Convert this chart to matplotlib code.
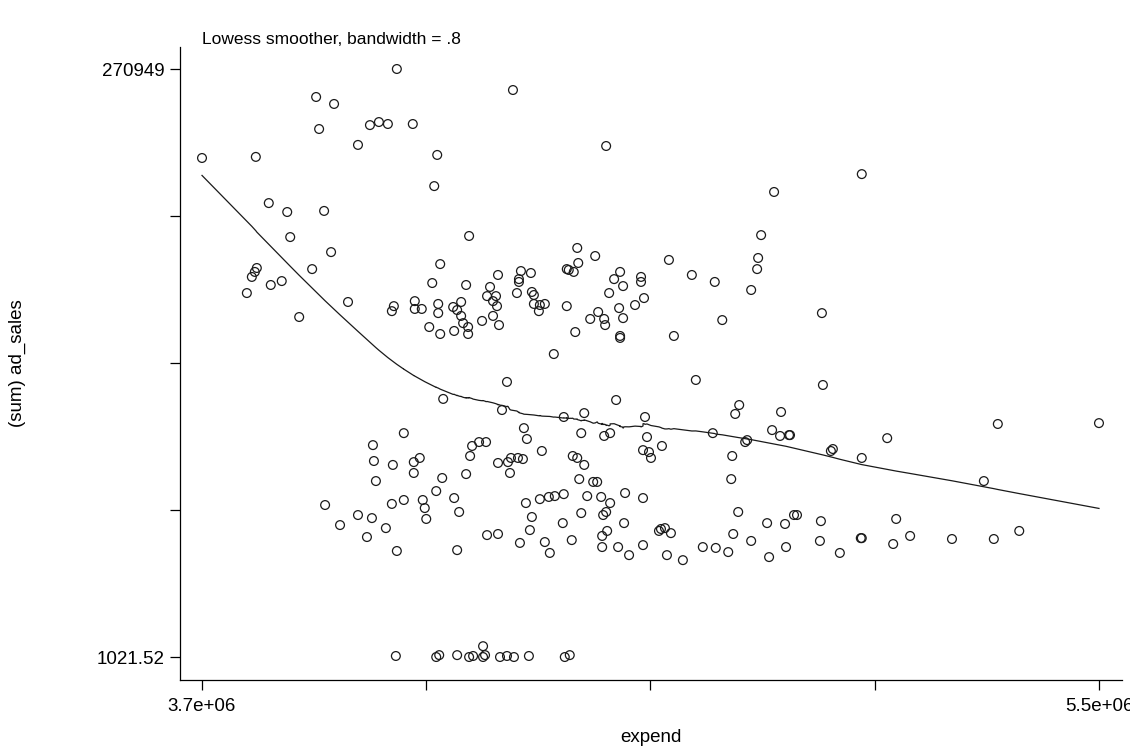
import numpy as np
import matplotlib
matplotlib.use("Agg")
import matplotlib.pyplot as plt

plt.rcParams['font.family'] = ['Liberation Sans', 'DejaVu Sans']

# expend (thousands) and (sum) ad_sales (thousands)
expend_k = [
    4091, 3929, 3965, 3935, 4037, 4055, 4073, 4123, 4013, 3700,
    3808, 4172, 4166, 3834, 3871, 3945, 3877, 4236, 3959, 4178,
    3810, 3921, 3806, 3800, 3790, 3838, 3860, 3895, 3993, 4162,
    4230, 4085, 4081, 4127, 4127, 4141, 4174, 4174, 4220, 4204,
    4212, 4220, 4224, 4234, 4156, 4178, 4206, 4234, 4184, 4324,
    4511, 4848, 4822, 4453, 4489, 4455, 4637, 4816, 4814, 5024,
    4432, 4436, 4446, 4340, 4360, 4336, 4336, 4294, 4278, 4272,
    4290, 4284, 4292, 4332, 4362, 4366, 4366, 4378, 4388, 4376,
    4262, 4284, 4296, 4432, 4449, 4527, 4539, 4545, 4517, 4581,
    4581, 4587, 4569, 4537, 4495, 4479, 4507, 4509, 4545, 4539,
    4539, 4683, 4729, 4802, 4744, 4647, 4406, 4312, 4691, 4531,
    4302, 4426, 4467, 4589, 4778, 4770, 4862, 4346, 4944, 4946,
    5297, 5500, 4105, 4043, 4045, 4083, 4125, 4137, 4125, 4049,
    4182, 4170, 4242, 4238, 4230, 3947, 3977, 4013, 4041, 4031,
    4069, 4081, 4105, 4143, 4147, 4150, 4206, 4216, 4091, 4212,
    4256, 4270, 4294, 4314, 4320, 4334, 4344, 4318, 4352, 4461,
    4507, 4519, 4593, 4623, 4585, 4597, 4601, 4725, 4790, 4794,
    4844, 4860, 4878, 4880, 4764, 4762, 4776, 4382, 4444, 4453,
    4467, 4457, 4485, 4493, 4549, 4585, 4473, 4501, 4519, 4511,
    4505, 4461, 4426, 4408, 4396, 4378, 4350, 4362, 4358, 4424,
    4442, 4388, 4398, 4338, 4294, 4272, 4503, 4513, 4503, 4535,
    4557, 4547, 4585, 4617, 4621, 4629, 4641, 4633, 4665, 4705,
    4731, 4756, 4766, 4802, 4834, 4870, 4888, 4894, 4838, 4872,
    4966, 4962, 5075, 5024, 5269, 4942, 5093, 4940, 4980, 5022,
    5024, 5087, 5121, 5205, 5289, 5340,
    4089, 4170, 4176, 4212, 4236, 4244, 4264, 4268, 4264, 4298,
    4312, 4326, 4356, 4428, 4438,
]
ad_sales_k = [
    270.949, 258.1, 254.9, 243.4, 245.2, 246.6, 245.7, 245.7, 236.1, 230.1,
    230.6, 231.5, 217.2, 209.4, 205.3, 205.8, 193.8, 194.3, 186.9, 181.4,
    179.6, 179.1, 177.8, 175.5, 168.1, 171.8, 173.6, 157.1, 164.0, 172.7,
    171.8, 162.1, 159.8, 164.4, 160.8, 160.8, 163.1, 158.9, 164.0, 161.7,
    160.3, 157.6, 154.3, 152.5, 152.5, 149.3, 150.7, 149.3, 119.5, 261.3,
    235.6, 214.5, 194.7, 188.8, 185.1, 181.9, 183.3, 184.2, 179.1, 222.7,
    179.1, 178.7, 177.8, 178.2, 177.3, 174.5, 173.2, 176.4, 170.9, 166.7,
    166.7, 164.4, 162.1, 168.1, 168.6, 167.2, 163.1, 162.6, 163.1, 159.8,
    155.3, 157.6, 153.4, 162.1, 150.2, 174.5, 177.8, 171.3, 168.1, 175.5,
    173.2, 165.8, 162.6, 161.2, 159.4, 156.2, 156.2, 153.4, 156.6, 148.4,
    147.5, 176.4, 173.2, 169.5, 155.7, 148.4, 140.1, 127.3, 128.2, 119.0,
    114.4, 111.2, 113.0, 111.2, 116.7, 112.6, 113.5, 106.1, 158.9, 125.9,
    108.0, 108.4, 103.8, 98.3, 91.0, 89.2, 90.5, 92.4, 85.5, 81.8,
    83.2, 77.2, 97.9, 93.3, 85.0, 70.8, 61.6, 66.2, 64.8, 56.1,
    60.2, 71.3, 73.1, 73.1, 69.4, 64.4, 74.0, 67.6, 49.7, 50.1,
    99.7, 99.7, 90.1, 90.5, 92.4, 92.4, 91.9, 85.5, 101.1, 103.8,
    102.5, 103.8, 102.0, 97.9, 96.0, 95.1, 92.4, 103.8, 99.7, 100.6,
    105.2, 102.5, 102.9, 102.9, 93.3, 82.7, 67.6, 95.6, 93.3, 92.4,
    89.2, 82.7, 81.4, 81.4, 76.3, 74.0, 74.9, 74.5, 71.7, 67.6,
    66.2, 67.1, 75.8, 74.9, 74.5, 73.5, 71.7, 65.3, 59.3, 62.5,
    54.7, 53.8, 48.8, 53.4, 57.5, 57.0, 56.6, 58.9, 51.5, 51.5,
    47.8, 62.5, 52.4, 58.9, 59.8, 60.2, 57.9, 47.8, 45.5, 51.5,
    51.1, 49.2, 57.5, 54.3, 62.5, 62.1, 66.2, 66.2, 46.9, 51.5,
    96.5, 95.6, 101.5, 92.4, 81.8, 63.4, 64.4, 54.3, 48.8, 55.6,
    55.6, 52.9, 56.6, 55.2, 55.2, 58.9,
    1.5, 1.02152, 1.9, 1.9, 1.02152, 1.5, 6.0, 1.9, 1.02152, 1.02152,
    1.5, 1.02152, 1.5, 1.02152, 1.9,
]

x = np.array(expend_k) * 1000.0
y = np.array(ad_sales_k) * 1000.0

x_min, x_max = 3.7e6, 5.5e6
y_min, y_max = 1021.52, 270949.0


def stata_lowess(x, y, bw=0.8):
    # running-line lowess with tricube weights, as Stata's lowess does
    order = np.argsort(x, kind="mergesort")
    xs, ys = x[order], y[order]
    n = len(xs)
    k = int(np.floor((n * bw - 0.5) / 2))
    fit = np.empty(n)
    for i in range(n):
        lo, hi = max(0, i - k), min(n - 1, i + k)
        xx, yy = xs[lo:hi + 1], ys[lo:hi + 1]
        delta = 1.0001 * max(xs[hi] - xs[i], xs[i] - xs[lo])
        w = (1 - (np.abs(xx - xs[i]) / delta) ** 3) ** 3
        sw = w.sum()
        xm = (w * xx).sum() / sw
        ym = (w * yy).sum() / sw
        sxx = (w * (xx - xm) ** 2).sum()
        b = (w * (xx - xm) * (yy - ym)).sum() / sxx if sxx > 0 else 0.0
        fit[i] = ym + b * (xs[i] - xm)
    return xs, fit


xs, fit = stata_lowess(x, y, 0.8)

fig = plt.figure(figsize=(11.3, 7.52), dpi=100)
ax = fig.add_axes([0.1593, 0.0957, 0.8336, 0.8418])

ax.scatter(x, y, s=40, facecolors='none', edgecolors='#1a1a1a', linewidths=0.9, zorder=3)
ax.plot(xs, fit, color='#1a1a1a', linewidth=0.9, zorder=2)

ax.set_xlim(x_min - 22 * (x_max - x_min) / 897, x_max + 23 * (x_max - x_min) / 897)
ax.set_ylim(y_min - 23 * (y_max - y_min) / 588, y_max + 22 * (y_max - y_min) / 588)

ax.set_xticks(np.linspace(x_min, x_max, 5))
ax.set_xticklabels(['3.7e+06', '', '', '', '5.5e+06'])
ax.set_yticks(np.linspace(y_min, y_max, 5))
ax.set_yticklabels(['1021.52', '', '', '', '270949'])

for side in ['top', 'right']:
    ax.spines[side].set_visible(False)
for side in ['left', 'bottom']:
    ax.spines[side].set_linewidth(0.9)
ax.tick_params(axis='both', direction='out', length=7, width=0.9, labelsize=13.5)
ax.tick_params(axis='x', pad=6)
ax.tick_params(axis='y', pad=4)

ax.set_xlabel('expend', fontsize=13.5, labelpad=10)
ax.set_ylabel('(sum) ad_sales', fontsize=13.5)
ax.yaxis.set_label_coords(-0.163, 0.5)

fig.text(202 / 1130, 1 - 40 / 752, 'Lowess smoother, bandwidth = .8',
         fontsize=12.5, ha='left', va='center')

fig.savefig('out.png', dpi=100, facecolor='white')
